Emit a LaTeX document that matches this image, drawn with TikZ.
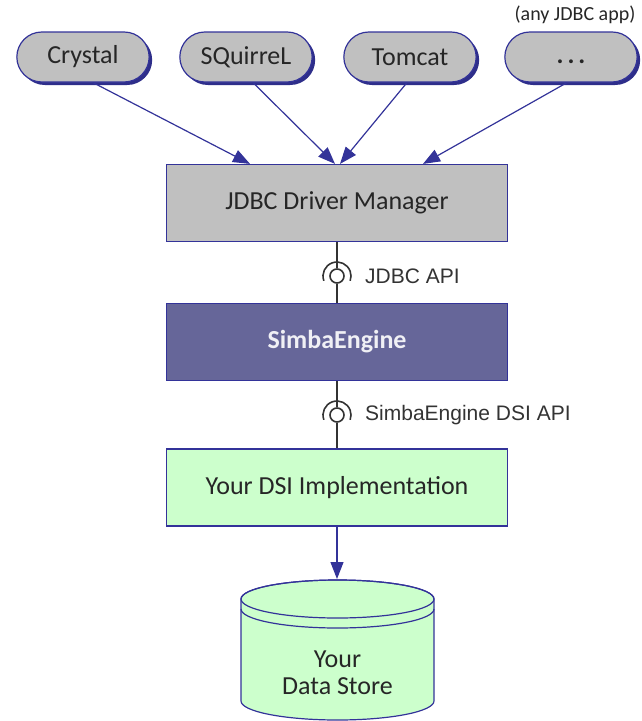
\documentclass[tikz,border=0pt]{standalone}
\usepackage{fontspec}
\setmainfont{Carlito}
\newfontfamily\apifont{Liberation Sans}
\usetikzlibrary{shapes.misc,shadows,arrows.meta}

\definecolor{edgeblue}{RGB}{51,51,153}
\definecolor{appgray}{RGB}{192,192,192}
\definecolor{simbafill}{RGB}{102,102,153}
\definecolor{dsigreen}{RGB}{204,255,204}

\tikzset{
  app/.style={rounded rectangle,draw=edgeblue,line width=1.2pt,fill=appgray,
    minimum width=139pt,minimum height=50pt,text=black!85,
    font=\fontsize{26}{28}\selectfont,
    drop shadow={shadow xshift=3pt,shadow yshift=-3pt,fill=edgeblue!90!black,opacity=1}},
  layer/.style={rectangle,draw=edgeblue,line width=1.2pt,minimum width=341pt,
    minimum height=77pt,text=black!85,font=\fontsize{26}{28}\selectfont},
  feed/.style={draw=edgeblue,line width=1.2pt,-{Triangle[length=17pt,width=13pt]}},
  api/.style={circle,draw=black!80,line width=1.6pt,fill=white,minimum size=14pt,inner sep=0pt},
  socket/.style={draw=black!80,line width=1.6pt},
  apilabel/.style={anchor=west,inner sep=0pt,text=black!80,font=\apifont\fontsize{21}{24}\selectfont}
}

\begin{document}
\begin{tikzpicture}[x=1pt,y=1pt]
  \useasboundingbox (0,0) rectangle (642,-721);

  % applications
  \node[app] (crystal) at (83,-57) {Crystal};
  \node[app] (squirrel) at (246,-57) {SQuirreL};
  \node[app] (tomcat) at (410,-57) {Tomcat};
  \node[app] (anyapp) at (571,-57) {\vphantom{Ty}\textbf{.\hspace{4pt}.\hspace{4pt}.}};
  \node[text=black!85,font=\fontsize{20}{22}\selectfont] (anylabel) at (575,-15) {(any JDBC app)};

  % layers
  \node[layer,fill=appgray] (manager) at (337,-203) {JDBC Driver Manager};
  \node[layer,fill=simbafill,text=white!90!simbafill,font=\bfseries\fontsize{26}{28}\selectfont] (simba) at (337,-342) {SimbaEngine};
  \node[layer,fill=dsigreen] (dsi) at (337,-487.5) {Your DSI Implementation};

  \draw[feed] ([xshift=10pt]crystal.south) -- ([xshift=-87pt]manager.north);
  \draw[feed] ([xshift=7pt]squirrel.south) -- ([xshift=-2pt]manager.north);
  \draw[feed] ([xshift=-3pt]tomcat.south) -- ([xshift=3pt]manager.north);
  \draw[feed] ([xshift=-4pt]anyapp.south) -- ([xshift=86pt]manager.north);

  % interfaces
  \node[api] (jdbcapi) at (337,-276) {};
  \node[api] (dsiapi) at (337,-415) {};
  \draw[socket] (manager) -- (jdbcapi) -- (simba);
  \draw[socket] (simba) -- (dsiapi) -- (dsi);
  \draw[socket] ([shift={(200:14pt)}]jdbcapi.center) arc[start angle=200,end angle=-20,radius=14pt];
  \draw[socket] ([shift={(200:14pt)}]dsiapi.center) arc[start angle=200,end angle=-20,radius=14pt];
  \node[apilabel] (jdbclabel) at (365,-276) {JDBC API};
  \node[apilabel] (dsilabel) at (365,-415) {SimbaEngine DSI API};

  % data store
  \path[draw=edgeblue,line width=1.2pt,fill=dsigreen] (241,-599) -- (241,-701)
    arc[start angle=180,end angle=360,x radius=96.5,y radius=19] -- (434,-599)
    arc[start angle=0,end angle=180,x radius=96.5,y radius=19] -- cycle;
  \draw[edgeblue,line width=1.2pt] (337.5,-599) ellipse[x radius=96.5,y radius=19];
  \draw[edgeblue,line width=1.2pt] (241,-609) arc[start angle=180,end angle=360,x radius=96.5,y radius=19];
  \coordinate (store) at (337,-579);
  \node[align=center,text=black!85,font=\fontsize{26}{27}\selectfont] (storetext) at (337.5,-673) {Your\\Data Store};
  \draw[feed] (dsi) -- (store);
\end{tikzpicture}
\end{document}
